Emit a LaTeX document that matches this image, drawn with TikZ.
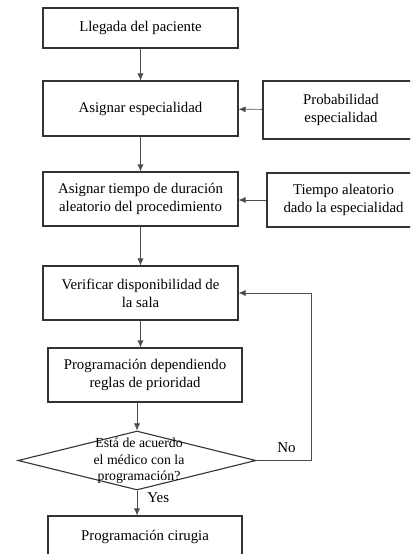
\documentclass[tikz,border=0pt]{standalone}
\usepackage{fontspec}
\setmainfont{Liberation Serif}
\usetikzlibrary{arrows.meta}
\usetikzlibrary{shapes.geometric}
\tikzset{>={Latex[length=7pt,width=6pt]}}
\tikzset{
    box/.style={draw=black!80, line width=1.1pt, align=center, inner sep=0pt,
        font=\fontsize{14.8}{18}\selectfont},
    decision/.style={diamond, draw=black!80, line width=1.1pt, inner sep=0pt,
        minimum width=238pt, minimum height=59pt},
    flow/.style={->, draw=black!70, line width=0.7pt},
    answer/.style={font=\fontsize{15}{18}\selectfont}
}

\begin{document}
\begin{tikzpicture}[x=1pt,y=-1pt]
    \useasboundingbox (0,0) rectangle (410,554);
    \clip (0,0) rectangle (410,554);
    %main column
    \node[box, minimum width=195pt, minimum height=40pt] (llegada) at (140.5,28) {Llegada del paciente};
    \node[box, minimum width=195pt, minimum height=55pt] (asignar) at (140.5,108.5) {Asignar especialidad};
    \node[box, minimum width=195pt, minimum height=54pt] (tiempo) at (140.5,199) {Asignar tiempo de duración\\aleatorio del procedimiento};
    \node[box, minimum width=195pt, minimum height=54pt] (verificar) at (140.5,293) {Verificar disponibilidad de\\la sala};
    \node[box, minimum width=194pt, minimum height=54pt] (program) at (145,375) {Programación dependiendo\\reglas de prioridad};
    \node[decision] (acuerdo) at (137,460.5) {};
    \node[align=center, inner sep=0pt, font=\fontsize{13.8}{16.5}\selectfont] (pregunta) at (139,461) {Está de acuerdo\\el médico con la\\programación?};
    \node[box, minimum width=194pt, minimum height=42pt] (cirugia) at (145,537) {Programación cirugia};
    %inputs
    \node[box, minimum width=156pt, minimum height=58pt] (prob) at (341,110) {Probabilidad\\especialidad};
    \node[box, minimum width=153pt, minimum height=54pt] (aleatorio) at (343.5,200) {Tiempo aleatorio\\dado la especialidad};
    %loop corner
    \coordinate (vuelta) at (311,460.5);
    %connectors
    \draw[flow] (llegada) -- (asignar);
    \draw[flow] (prob) -- (asignar);
    \draw[flow] (asignar) -- (tiempo);
    \draw[flow] (aleatorio.west) -- (aleatorio.west -| tiempo.east);
    \draw[flow] (tiempo) -- (verificar);
    \draw[flow] (verificar.south) -- (verificar.south |- program.north);
    \draw[flow] (acuerdo.north |- program.south) -- (acuerdo.north);
    \draw[flow] (acuerdo.south) -- node[right, pos=0.3, answer, inner sep=2pt, xshift=8pt] {Yes} (acuerdo.south |- cirugia.north);
    \draw[flow] (acuerdo.east) -- node[above, pos=0.55, answer, inner sep=8pt] {No} (vuelta) |- (verificar.east);
\end{tikzpicture}
\end{document}
